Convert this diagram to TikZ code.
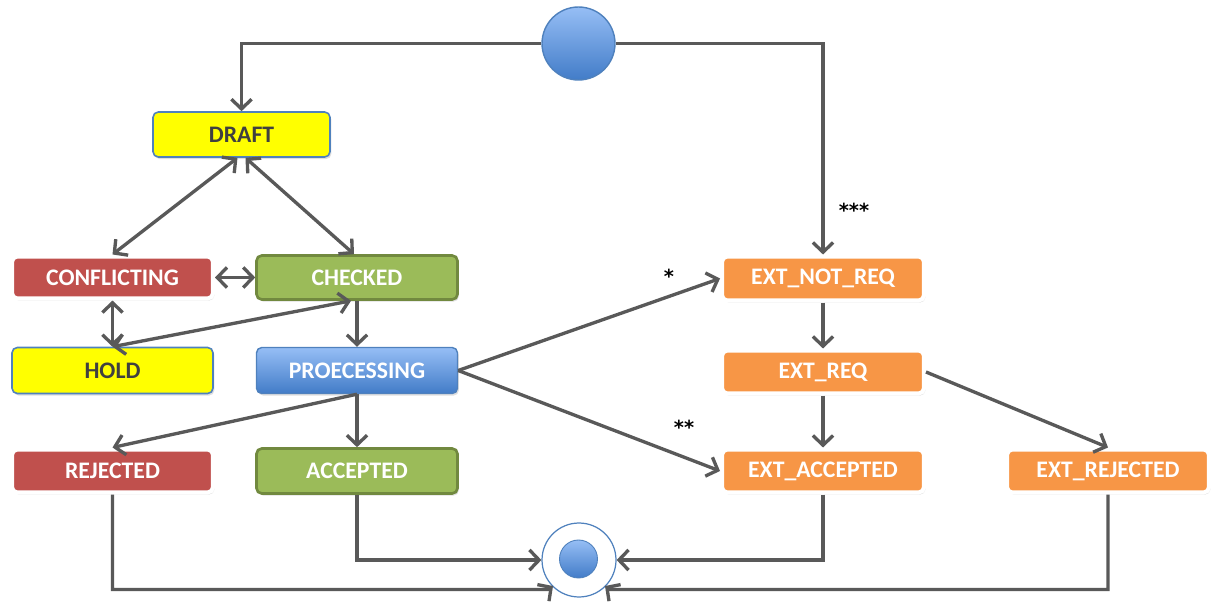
\documentclass[tikz,border=0pt]{standalone}
\usepackage{fontspec}
\setmainfont{Carlito}
\newfontfamily\starfont{DejaVu Sans}
\usetikzlibrary{arrows.meta,shadows,calc}
\definecolor{lineg}{RGB}{89,89,89}
\definecolor{yel}{RGB}{255,255,0}
\definecolor{bluebd}{RGB}{79,129,189}
\definecolor{redf}{RGB}{192,80,77}
\definecolor{greenf}{RGB}{155,187,89}
\definecolor{greenbd}{RGB}{113,137,63}
\definecolor{orangef}{RGB}{247,150,70}
\definecolor{bluetop}{RGB}{150,190,245}
\definecolor{bluebot}{RGB}{66,124,200}
\definecolor{darktxt}{RGB}{64,64,64}
\tikzset{
  x=0.02cm, y=-0.02cm,
  box/.style={rounded corners=3pt, inner sep=0pt, minimum width=4.02cm, minimum height=0.88cm,
    font=\fontsize{13.5}{15}\selectfont\bfseries, text=white,
    drop shadow={opacity=0.25, shadow xshift=0.8pt, shadow yshift=-1.2pt}},
  yelbox/.style={box, fill=yel, draw=bluebd, line width=0.9pt, text=darktxt},
  redbox/.style={box, fill=redf, draw=white, line width=2.3pt},
  greenbox/.style={box, fill=greenf, draw=greenbd, line width=1.5pt},
  bluebox/.style={box, top color=bluetop, bottom color=bluebot, draw=bluebd, line width=0.8pt},
  orbox/.style={box, fill=orangef, draw=white, line width=2.3pt},
  barbtip/.tip={Straight Barb[length=5.5pt,width=11.5pt,line width=1.9pt]},
  arr/.style={draw=lineg, line width=1.9pt, -{barbtip}},
  biarr/.style={draw=lineg, line width=1.9pt, {barbtip}-{barbtip}},
  star/.style={font=\starfont\fontsize{11}{13}\selectfont\bfseries, text=black, inner sep=0pt}
}
\begin{document}
\begin{tikzpicture}
\useasboundingbox (0,0) rectangle (1212,607);
% start / end
\node[circle, minimum size=1.46cm, inner sep=0pt, top color=bluetop, bottom color=bluebot, draw=bluebd, line width=0.8pt] (start) at (578.5,43.5) {};
\node[circle, minimum size=1.48cm, inner sep=0pt, fill=white, draw=bluebd, line width=0.7pt] (endc) at (579,560) {};
\node[circle, minimum size=0.76cm, inner sep=0pt, top color=bluetop, bottom color=bluebot, draw=bluebd, line width=0.5pt] (endin) at (578.5,559) {};
% states
\node[yelbox, minimum width=3.54cm, minimum height=0.9cm] (draft) at (241.5,134.5) {DRAFT};
\node[redbox, minimum height=0.84cm] (confl) at (112.5,277.5) {CONFLICTING};
\node[greenbox, minimum height=0.88cm] (checked) at (357,277.5) {CHECKED};
\node[yelbox, minimum height=0.92cm] (hold) at (112.5,370.5) {HOLD};
\node[bluebox, minimum height=0.92cm] (proc) at (357,370.5) {PROECESSING};
\node[redbox, minimum height=0.86cm] (rej) at (112.5,471) {REJECTED};
\node[greenbox, minimum height=0.9cm] (acc) at (357,471) {ACCEPTED};
\node[orbox, minimum width=4.04cm, minimum height=0.88cm] (extnr) at (823,278.5) {EXT\_NOT\_REQ};
\node[orbox, minimum width=4.04cm, minimum height=0.86cm] (extreq) at (823,372) {EXT\_REQ};
\node[orbox, minimum width=4.04cm, minimum height=0.86cm] (extacc) at (823,471) {EXT\_ACCEPTED};
\node[orbox, minimum width=4.04cm, minimum height=0.86cm] (extrej) at (1108,471) {EXT\_REJECTED};
% labels
\node[star] (l1) at (854,210) {***};
\node[star] (l2) at (669,276) {*};
\node[star] (l3) at (684,427) {**};
% connectors
\draw[arr] (start.west) -| (draft.north);
\draw[arr] (start.east) -| (extnr.north);
\draw[biarr] ($(draft.south)+(-4,0)$) -- (confl.north);
\draw[biarr] ($(draft.south)+(4,0)$) -- ($(checked.north)+(-3,0)$);
\draw[biarr] (confl.east) -- (checked.west);
\draw[biarr] (confl.south) -- (hold.north);
\draw[biarr] ($(checked.south)+(-6,0)$) -- (hold.north);
\draw[arr] (checked.south) -- (proc.north);
\draw[arr] (proc.south) -- (rej.north);
\draw[arr] (proc.south) -- (acc.north);
\draw[arr] (proc.east) -- (extnr.west);
\draw[arr] (proc.east) -- (extacc.west);
\draw[arr] (extnr.south) -- (extreq.north);
\draw[arr] (extreq.south) -- (extacc.north);
\draw[arr] (extreq.east) -- (extrej.north);
\coordinate (endL) at (553,586);
\coordinate (endR) at (605,586);
\coordinate (bendL) at (548,589.5);
\coordinate (bendR) at (610,589.5);
\draw[arr] (rej.south) |- (bendL) -- (endL);
\draw[arr] (acc.south) |- (endc.west);
\draw[arr] (extacc.south) |- (endc.east);
\draw[arr] (extrej.south) |- (bendR) -- (endR);
\end{tikzpicture}
\end{document}
